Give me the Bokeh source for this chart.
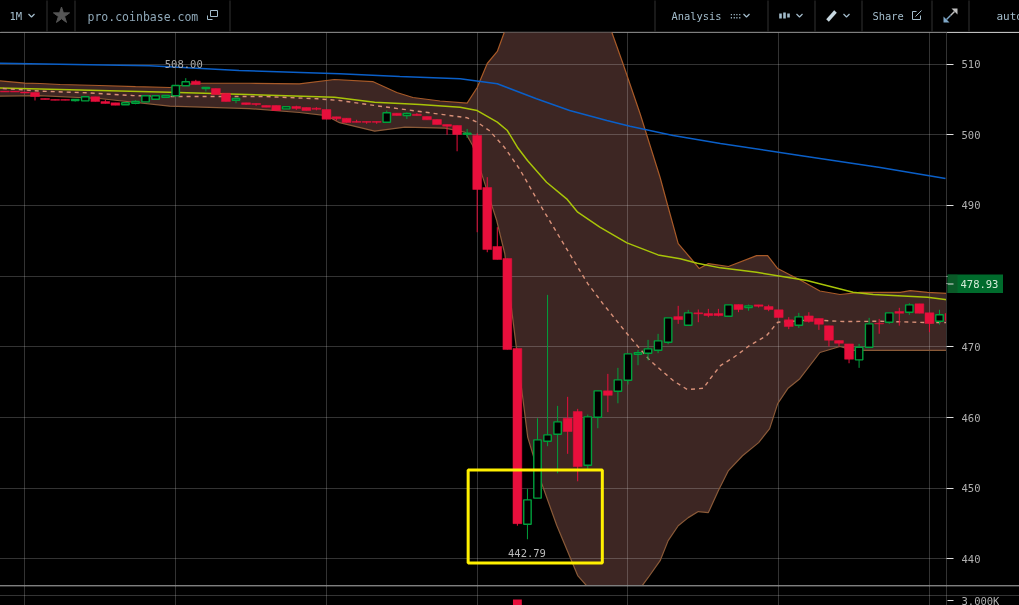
from bokeh.plotting import figure
from bokeh.layouts import column
from bokeh.models import Range1d, FixedTicker, Grid
from bokeh.core.properties import value
from bokeh.embed import file_html
from bokeh.resources import INLINE

# ---------- data ----------
candle_k = list(range(-47, 48))
op = [506.15,506.15,506.04,505.97,505.12,504.98,504.98,504.84,504.79,505.36,504.69,504.51,504.23,504.45,504.65,505.02,505.30,505.50,506.92,507.57,506.53,506.53,505.87,504.88,504.51,504.41,504.13,504.13,503.66,503.99,503.85,503.75,503.56,502.53,502.33,501.87,501.87,501.87,501.77,503.04,502.71,502.90,502.57,502.15,501.44,501.30,500.07,
      499.89,492.53,484.19,482.49,469.76,444.91,448.6,456.65,457.64,459.90,460.85,453.25,460.04,463.78,463.72,465.27,468.95,469.10,469.52,470.65,474.28,473.05,474.81,474.71,474.71,474.33,475.98,475.56,475.94,475.70,475.23,473.82,473.05,474.38,474.0,472.97,470.89,470.42,468.16,469.94,473.34,473.48,475.0,474.89,476.08,474.81,473.62,474.71]
hi = [506.15,506.15,506.04,505.97,505.12,504.98,504.98,504.98,505.36,505.36,504.94,504.51,504.51,504.88,505.50,505.50,505.54,506.96,508.00,507.76,506.67,506.53,505.87,505.12,504.51,504.41,504.13,504.13,503.95,504.1,503.85,503.9,503.56,502.53,502.33,502.11,501.87,501.87,503.42,503.04,503.15,503.05,502.57,502.15,501.44,501.30,500.82,
      500.2,493.99,486.92,482.49,469.76,449.92,459.9,477.35,461.65,462.93,461.23,460.42,463.78,466.18,467.03,469.01,469.57,470.99,471.84,474.10,475.8,475.23,475.28,475.37,475.37,475.94,475.98,475.98,475.94,475.95,475.23,474.2,474.81,474.9,474.0,472.97,470.89,470.42,470.42,474.1,473.95,474.81,475.52,476.17,476.08,474.81,475.24,474.71]
lo = [506.05,506.05,505.90,504.84,504.98,504.86,504.86,504.69,504.79,504.69,504.41,504.17,504.23,504.31,504.65,505.02,505.30,505.50,506.92,507.10,506.11,505.68,504.69,504.45,504.2,504.08,503.89,503.42,503.66,503.5,503.42,503.45,502.19,502.01,501.72,501.75,501.54,501.54,501.77,502.71,502.23,502.71,502.11,501.44,499.98,497.66,499.56,
      486.21,483.38,482.35,469.62,444.7,442.79,448.6,455.95,452.12,454.87,450.99,452.74,458.49,460.77,462.02,464.67,467.4,468.09,469.1,470.37,473.25,473.05,473.48,474.19,474.3,474.33,474.9,475.1,475.56,475.04,474.14,472.5,472.68,473.43,472.4,470.07,470.07,467.68,467.03,469.94,471.85,473.25,473.0,474.53,474.75,472.07,473.15,473.72]
cl = [506.05,506.05,505.90,505.40,504.98,504.86,504.86,504.98,505.36,504.69,504.41,504.17,504.51,504.69,505.50,505.50,505.54,506.96,507.48,507.10,506.67,505.68,504.69,505.12,504.27,504.27,503.89,503.42,503.95,503.70,503.42,503.60,502.19,502.25,501.72,501.75,501.75,501.75,503.10,502.71,503.0,502.71,502.11,501.44,501.20,500.03,500.21,
      492.25,483.76,482.35,469.62,445.0,448.36,456.85,457.55,459.39,458.02,453.07,460.1,463.78,463.15,465.33,469.01,469.19,469.72,470.85,474.10,473.86,474.81,474.67,474.43,474.43,475.94,475.28,475.80,475.74,475.28,474.14,472.87,474.24,473.58,473.2,470.93,470.51,468.25,469.94,473.25,473.25,474.81,474.75,475.94,474.75,473.30,474.53,473.72]

upper_k = [-48,-45,-43.5,-41.5,-37.6,-34,-30.6,-28.1,-22.7,-17.7,-14.2,-10.4,-8,-6.4,-3.7,-1,0,1,2,2.7,3,12.9,13.4,14.5,16.2,18.2,18.9,20,21.2,22.1,23,25,27.8,28.9,29.9,31.1,32.1,34.1,36.1,38.1,42.1,43.1,44.8,46.7]
upper = [507.67,507.3,507.24,507.1,506.96,506.8,506.68,507.28,507.28,507.2,507.81,507.52,505.97,505.26,504.77,504.46,506.68,510.07,511.77,514.5,516,516.4,514.46,510.07,503.0,493.95,490.27,484.6,482.6,481.07,481.78,481.36,482.9,482.9,481.07,480.2,479.5,477.9,477.4,477.7,477.7,477.96,477.7,477.55]
lower_k = [-48,-43.6,-37.6,-30.6,-22.7,-17.7,-15,-13.7,-10.2,-7.2,-3.2,-1.2,-0.45,0.55,1.94,2.74,3.44,3.93,4.53,5.03,6.42,7.92,9.5,10,10.9,12,15,16.4,17,18.2,19,20,21,22,23,24,25,26.4,28,29.1,29.9,30.9,32.1,34.1,36.1,37.4,46.7]
lower = [505.45,505.54,505.12,504.03,503.7,503.14,502.7,501.7,500.5,501.06,500.92,500.35,498.47,494,487.87,483.2,475.13,469.5,462.83,457.2,450.67,444.73,439.35,437.65,436.2,434.5,434.5,436.2,437.35,439.76,442.6,444.7,445.85,446.7,446.56,449.67,452.5,454.6,456.46,458.44,461.98,464.1,465.5,469.2,470.05,469.5,469.5]

yellow_k = [-48,-30.6,-14.2,-10.2,-5.7,-1.7,0,2,3,4,5,6.9,8.9,10,12.2,14.9,18,20.2,21.9,24.2,27.8,32.8,37.4,39.4,44.8,46.8]
yellow = [506.63,506.01,505.3,504.6,504.27,503.89,503.42,501.77,500.59,498.23,496.35,493.28,490.93,489.04,486.92,484.71,483.0,482.45,481.82,481.17,480.55,479.38,477.72,477.4,477.0,476.65]
blue_k = [-48,-32.6,-23.7,-13.7,-7.7,-1.7,2,5.9,9.2,12.9,15.2,19.5,24.2,32.1,40.1,46.6]
blue = [510.11,509.75,509.08,508.61,508.23,507.91,507.2,505.08,503.42,502.01,501.2,499.89,498.76,497.06,495.36,493.8]
mid_k = [-48,-45.3,-43.3,-38.9,-34.3,-30.9,-21.2,-15.9,-13.7,-10.2,-5.7,-1,0,1.2,2.7,4.2,6.2,8.2,10.2,11,12.5,14.9,17.2,19.5,20.9,22.5,23.2,24.2,25.5,27.1,28.8,29.9,33.4,36.4,40.1,44.8,46.8]
mid = [506.6,506.35,506.15,505.93,505.54,505.4,505.4,505.08,504.84,504.13,503.28,502.39,501.77,500.59,498.23,495.18,490.23,485.5,480.8,478.95,476.12,471.88,468.06,465.23,463.96,464.14,465.52,467.35,468.49,470.18,471.6,473.48,473.82,473.58,473.62,473.44,473.44]

price_ticks = [440, 450, 460, 470, 480, 490, 500, 510]
time_ticks = [-45, -30, -15, 0, 15, 30, 45]
last_price = 478.93
volume_k = [4]
volume = [3200]

# ---------- colours / fonts ----------
MONO = value("DejaVu Sans Mono")
GRID = "#ffffff"
UP, DOWN = "#00a03c", "#e80f3c"
HEAD = "#a3bccb"
SEP = "#333333"

def px_k(px):
    return (px - 476.7) / 10.05

# ---------- header ----------
h = figure(width=1020, height=33, x_range=Range1d(-1, 1019), y_range=Range1d(32, -1),
           x_axis_location=None, y_axis_location=None, toolbar_location=None, output_backend="svg",
           min_border=0, background_fill_color="#000000", border_fill_color="#000000", outline_line_color=None)
h.frame_align = False
h.grid.visible = False
for sx in [46.5, 74.5, 229.5, 654.5, 767.5, 814.5, 861.5, 931.5, 968.5]:
    h.segment(sx, 0, sx, 31, line_color=SEP, line_width=1)
h.segment(0, 31.5, 1019, 31.5, line_color=SEP, line_width=1)
h.text([9], [15.5], text=["1M"], text_font=MONO, text_font_size="10.5px", text_color=HEAD, text_baseline="middle")
h.text([87], [16], text=["pro.coinbase.com"], text_font=MONO, text_font_size="11.5px", text_color="#8fa8b8", text_baseline="middle")
h.text([671], [15.5], text=["Analysis"], text_font=MONO, text_font_size="10.4px", text_color=HEAD, text_baseline="middle")
h.text([872], [15.5], text=["Share"], text_font=MONO, text_font_size="10.4px", text_color=HEAD, text_baseline="middle")
h.text([996], [16], text=["auto"], text_font=MONO, text_font_size="11px", text_color=HEAD, text_baseline="middle")
h.scatter([61], [15], marker="star", size=17, fill_color="#555555", line_color="#555555")
for cx in [31, 746, 799, 846]:
    h.line([cx - 3, cx, cx + 3], [13.5, 16.5, 13.5], line_color=HEAD, line_width=1.2)
# external-link boxes
h.line([207, 207, 212], [15, 19, 19], line_color=HEAD, line_width=1)
h.quad(left=[210], right=[217], top=[10], bottom=[16], fill_color=None, line_color=HEAD)
h.line([916, 912, 912, 920, 920], [11, 11, 19, 19, 15], line_color=HEAD, line_width=1)
h.line([915, 921], [16, 10], line_color=HEAD, line_width=1)
# analysis glyph
h.text([735], [15], text=["\u2237\u2237"], text_font=MONO, text_font_size="9px", text_color=HEAD,
       text_align="center", text_baseline="middle")
# candle glyph
h.segment([780, 784, 788], [11, 10, 11], [20, 20, 19], line_color=HEAD, line_width=1)
h.vbar([780, 784, 788], top=[13, 12, 13], bottom=[18, 18, 17], width=2.6, fill_color=HEAD, line_color=None)
# pencil
h.line([827, 835], [20, 11], line_color="#c8d8e0", line_width=3.5)
# expand arrows
h.patch([951, 957, 957], [8, 8, 14], fill_color="#c0c0c0", line_color=None)
h.line([950, 954], [15, 11], line_color="#c0c0c0", line_width=1.5)
h.patch([943, 943, 949], [16, 22, 22], fill_color="#7fa8c8", line_color=None)
h.line([946, 950], [19, 15], line_color="#7fa8c8", line_width=1.5)

# ---------- main chart ----------
x_range = Range1d(px_k(-1), px_k(946))
p = figure(width=1020, height=553, x_range=x_range, y_range=Range1d(436.25, 514.455),
           x_axis_location=None, y_axis_location="right", toolbar_location=None, output_backend="svg",
           min_border_left=0, min_border_right=73, min_border_top=0, min_border_bottom=0,
           background_fill_color="#000000", border_fill_color="#000000", outline_line_color=None)
p.frame_align = False

ax = p.yaxis[0]
ax.ticker = FixedTicker(ticks=price_ticks + [last_price])
ax.major_label_overrides = {last_price: "", 480: ""}
ax.axis_line_color = SEP
ax.major_tick_line_color = "#e0e0e0"
ax.major_tick_in = 0
ax.major_tick_out = 7
ax.minor_tick_line_color = None
ax.major_label_standoff = 8
ax.major_label_text_font = "DejaVu Sans Mono"
ax.major_label_text_font_size = "10.5px"
ax.major_label_text_color = "#b0b0b0"

p.grid.visible = False
p.add_layout(Grid(dimension=1, ticker=FixedTicker(ticks=price_ticks), grid_line_color=GRID, grid_line_alpha=0.2))
p.add_layout(Grid(dimension=0, ticker=FixedTicker(ticks=time_ticks), grid_line_color=GRID, grid_line_alpha=0.2))

# band
p.patch(upper_k + lower_k[::-1], upper + lower[::-1], fill_color="#3d2623", line_color=None, level="image")
p.line(upper_k, upper, line_color="#a85a28", line_width=1.2)
p.line(lower_k, lower, line_color="#8a5a38", line_width=1.2)
p.line(blue_k, blue, line_color="#0a5fc8", line_width=1.5)
p.line(yellow_k, yellow, line_color="#a8c408", line_width=1.5)
p.line(mid_k, mid, line_color="#d89078", line_width=1.4, line_dash="4 4")

# candles
wick_col = [UP if c >= o else DOWN for o, c in zip(op, cl)]
p.segment(candle_k, hi, candle_k, lo, line_color=wick_col, line_width=1)
up_i = [i for i, (o, c) in enumerate(zip(op, cl)) if c >= o]
dn_i = [i for i, (o, c) in enumerate(zip(op, cl)) if c < o]
p.vbar([candle_k[i] for i in dn_i], top=[op[i] for i in dn_i], bottom=[cl[i] for i in dn_i], width=0.88,
       fill_color=DOWN, line_color=DOWN, line_width=0.5)
p.vbar([candle_k[i] for i in up_i], top=[cl[i] for i in up_i], bottom=[op[i] for i in up_i], width=0.74,
       fill_color="#000000", line_color=UP, line_width=1.4)

# extreme labels
p.text([-29.2], [509.95], text=["508.00"], text_font=MONO, text_font_size="10.5px", text_color="#aaaaaa",
       text_align="center", text_baseline="middle")
p.text([4.95], [440.9], text=["442.79"], text_font=MONO, text_font_size="10.5px", text_color="#bbbbbb",
       text_align="center", text_baseline="middle")

# highlight box
p.quad(left=[-0.9], right=[12.45], top=[452.57], bottom=[439.42], fill_color=None,
       line_color="#fff000", line_width=3)

# ---------- last price tag ----------
tag = figure(width=56, height=19, x_range=Range1d(0, 56), y_range=Range1d(last_price - 1.34, last_price + 1.34),
             x_axis_location=None, y_axis_location=None, toolbar_location=None, output_backend="svg",
             min_border=0, background_fill_color="#006b2c", border_fill_color="#006b2c", outline_line_color=None,
             styles={"position": "fixed", "left": "947px", "top": "274px"})
tag.frame_align = False
tag.grid.visible = False
tag.quad(left=[0], right=[10], top=[last_price + 1.34], bottom=[last_price - 1.34], fill_color="#0a5a28", line_color=None)
tag.segment([0], [last_price], [6], [last_price], line_color="#e0e0e0")
tag.text([13], [last_price], text=["478.93"], text_font=MONO, text_font_size="10.5px", text_color="#d4ecd8",
         text_baseline="middle")

# ---------- volume strip ----------
v = figure(width=1020, height=20, x_range=Range1d(px_k(-1), px_k(1019)), y_range=Range1d(2000, 6000),
           x_axis_location=None, y_axis_location=None, toolbar_location=None, output_backend="svg",
           min_border=0, background_fill_color="#000000", border_fill_color="#000000", outline_line_color=None)
v.frame_align = False
v.grid.visible = False
v.add_layout(Grid(dimension=0, ticker=FixedTicker(ticks=time_ticks + [px_k(946)]), grid_line_color=GRID, grid_line_alpha=0.2))
v.add_layout(Grid(dimension=1, ticker=FixedTicker(ticks=[4000, 5900]), grid_line_color=GRID, grid_line_alpha=0.2))
v.vbar(volume_k, top=volume, bottom=0, width=0.88, fill_color=DOWN, line_color=None)
v.segment([px_k(947)], [3000], [px_k(953)], [3000], line_color="#e0e0e0")
v.text([px_k(961)], [3000], text=["3.000K"], text_font=MONO, text_font_size="10.5px", text_color="#b0b0b0",
       text_baseline="middle")

page = column(h, p, v, tag, spacing=0, styles={"position": "fixed", "left": "-1px", "top": "-1px"})
open("out.html", "w").write(file_html(page, INLINE))
